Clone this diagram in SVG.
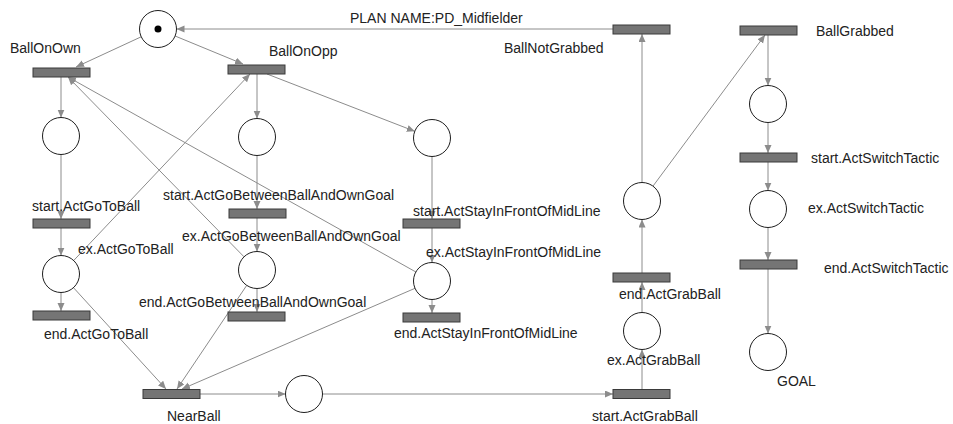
<svg xmlns="http://www.w3.org/2000/svg" width="953" height="424" viewBox="0 0 953 424">
  <style>
    .place { fill: #ffffff; stroke: #1e1e1e; stroke-width: 1; }
    .trans { fill: #757575; stroke: #3a3a3a; stroke-width: 1; }
    .arc { stroke: #8c8c8c; stroke-width: 1; fill: none; marker-end: url(#arrow); }
    .label { font-family: "Liberation Sans", Arial, sans-serif; font-size: 14px; fill: #222222; }
  </style>
  <defs>
    <marker id="arrow" markerUnits="userSpaceOnUse" markerWidth="9" markerHeight="8" refX="8" refY="3.5" orient="auto">
      <path d="M0,0 L8,3.5 L0,7 z" fill="#8c8c8c"/>
    </marker>
  </defs>
  <rect width="953" height="424" fill="#ffffff"/>

  <text class="label" x="350" y="23">PLAN NAME:PD_Midfielder</text>

  <!-- arcs -->
  <g id="connectors">
    <line class="arc" x1="141.2" y1="36.8" x2="76" y2="67"/>
    <line class="arc" x1="175.1" y1="36" x2="243" y2="64"/>
    <line class="arc" x1="61" y1="77" x2="61" y2="117.5"/>
    <line class="arc" x1="257" y1="74" x2="257" y2="118.5"/>
    <line class="arc" x1="267" y1="74" x2="414.8" y2="131.3"/>
    <line class="arc" x1="61" y1="154.5" x2="61" y2="219"/>
    <line class="arc" x1="61" y1="228" x2="61" y2="255.5"/>
    <line class="arc" x1="61" y1="292.5" x2="61" y2="311"/>
    <line class="arc" x1="73.7" y1="260.5" x2="250" y2="74"/>
    <line class="arc" x1="73.5" y1="287.7" x2="166" y2="389"/>
    <line class="arc" x1="257" y1="155.5" x2="257" y2="209"/>
    <line class="arc" x1="257" y1="218" x2="257" y2="251.5"/>
    <line class="arc" x1="257" y1="288.5" x2="257" y2="312"/>
    <line class="arc" x1="244" y1="256.8" x2="68" y2="77"/>
    <line class="arc" x1="246.7" y1="285.4" x2="177" y2="389"/>
    <line class="arc" x1="432" y1="156.5" x2="432" y2="219"/>
    <line class="arc" x1="432" y1="228" x2="432" y2="262.5"/>
    <line class="arc" x1="432" y1="299.5" x2="432" y2="313"/>
    <line class="arc" x1="415.9" y1="272" x2="68" y2="77"/>
    <line class="arc" x1="415" y1="288.3" x2="182" y2="389"/>
    <line class="arc" x1="200" y1="394" x2="285.5" y2="394"/>
    <line class="arc" x1="322.5" y1="394" x2="613" y2="394"/>
    <line class="arc" x1="642" y1="389" x2="642" y2="349.5"/>
    <line class="arc" x1="642" y1="312.5" x2="642" y2="282"/>
    <line class="arc" x1="642" y1="273" x2="642" y2="219.5"/>
    <line class="arc" x1="642" y1="182.5" x2="642" y2="34"/>
    <line class="arc" x1="653" y1="186.1" x2="765" y2="35"/>
    <line class="arc" x1="613" y1="29" x2="176.5" y2="29"/>
    <line class="arc" x1="768" y1="35" x2="768" y2="85.5"/>
    <line class="arc" x1="768" y1="122.5" x2="768" y2="153"/>
    <line class="arc" x1="768" y1="162" x2="768" y2="190.5"/>
    <line class="arc" x1="768" y1="227.5" x2="768" y2="260"/>
    <line class="arc" x1="768" y1="269" x2="768" y2="333.5"/>
  </g>

  <!-- places -->
  <g id="p-start"><circle class="place" cx="158" cy="29" r="18.5"/><circle cx="158" cy="29" r="3.5" fill="#000"/></g>
  <g id="p-own"><circle class="place" cx="61" cy="136" r="18.5"/></g>
  <g id="p-opp"><circle class="place" cx="257" cy="137" r="18.5"/></g>
  <g id="p-mid"><circle class="place" cx="432" cy="138" r="18.5"/></g>
  <g id="p-exGoToBall"><circle class="place" cx="61" cy="274" r="18.5"/><text class="label" x="78" y="254">ex.ActGoToBall</text></g>
  <g id="p-exGoBetween"><circle class="place" cx="257" cy="270" r="18.5"/><text class="label" x="182" y="241">ex.ActGoBetweenBallAndOwnGoal</text></g>
  <g id="p-exStay"><circle class="place" cx="432" cy="281" r="18.5"/><text class="label" x="426" y="257">ex.ActStayInFrontOfMidLine</text></g>
  <g id="p-near"><circle class="place" cx="304" cy="394" r="18.5"/></g>
  <g id="p-exGrab"><circle class="place" cx="642" cy="331" r="18.5"/><text class="label" x="607" y="365">ex.ActGrabBall</text></g>
  <g id="p-grab"><circle class="place" cx="642" cy="201" r="18.5"/></g>
  <g id="p-grabbed"><circle class="place" cx="768" cy="104" r="18.5"/></g>
  <g id="p-exSwitch"><circle class="place" cx="768" cy="209" r="18.5"/><text class="label" x="808" y="213">ex.ActSwitchTactic</text></g>
  <g id="p-goal"><circle class="place" cx="768" cy="352" r="18.5"/><text class="label" x="777" y="386">GOAL</text></g>

  <!-- transitions -->
  <g id="t-ballOnOwn"><rect class="trans" x="33" y="68" width="57" height="9"/><text class="label" x="10" y="53">BallOnOwn</text></g>
  <g id="t-ballOnOpp"><rect class="trans" x="228" y="65" width="57" height="9"/><text class="label" x="269" y="56">BallOnOpp</text></g>
  <g id="t-ballNotGrabbed"><rect class="trans" x="613" y="25" width="57" height="9"/><text class="label" x="504" y="53">BallNotGrabbed</text></g>
  <g id="t-ballGrabbed"><rect class="trans" x="740" y="26" width="57" height="9"/><text class="label" x="816" y="36">BallGrabbed</text></g>
  <g id="t-startGoToBall"><rect class="trans" x="33" y="219" width="57" height="9"/><text class="label" x="32" y="211">start.ActGoToBall</text></g>
  <g id="t-endGoToBall"><rect class="trans" x="33" y="311" width="57" height="9"/><text class="label" x="44" y="339">end.ActGoToBall</text></g>
  <g id="t-startGoBetween"><rect class="trans" x="229" y="209" width="57" height="9"/><text class="label" x="163" y="200">start.ActGoBetweenBallAndOwnGoal</text></g>
  <g id="t-endGoBetween"><rect class="trans" x="228" y="312" width="57" height="9"/><text class="label" x="139" y="307">end.ActGoBetweenBallAndOwnGoal</text></g>
  <g id="t-startStay"><rect class="trans" x="403" y="219" width="57" height="9"/><text class="label" x="413" y="216">start.ActStayInFrontOfMidLine</text></g>
  <g id="t-endStay"><rect class="trans" x="403" y="313" width="57" height="9"/><text class="label" x="394" y="338">end.ActStayInFrontOfMidLine</text></g>
  <g id="t-nearBall"><rect class="trans" x="143" y="389.5" width="57" height="9"/><text class="label" x="167" y="421">NearBall</text></g>
  <g id="t-startGrab"><rect class="trans" x="613" y="389.5" width="57" height="9"/><text class="label" x="592" y="421">start.ActGrabBall</text></g>
  <g id="t-endGrab"><rect class="trans" x="613" y="273" width="57" height="9"/><text class="label" x="619" y="299">end.ActGrabBall</text></g>
  <g id="t-startSwitch"><rect class="trans" x="740" y="153" width="57" height="9"/><text class="label" x="811" y="163">start.ActSwitchTactic</text></g>
  <g id="t-endSwitch"><rect class="trans" x="740" y="260" width="57" height="9"/><text class="label" x="824" y="273">end.ActSwitchTactic</text></g>
</svg>
